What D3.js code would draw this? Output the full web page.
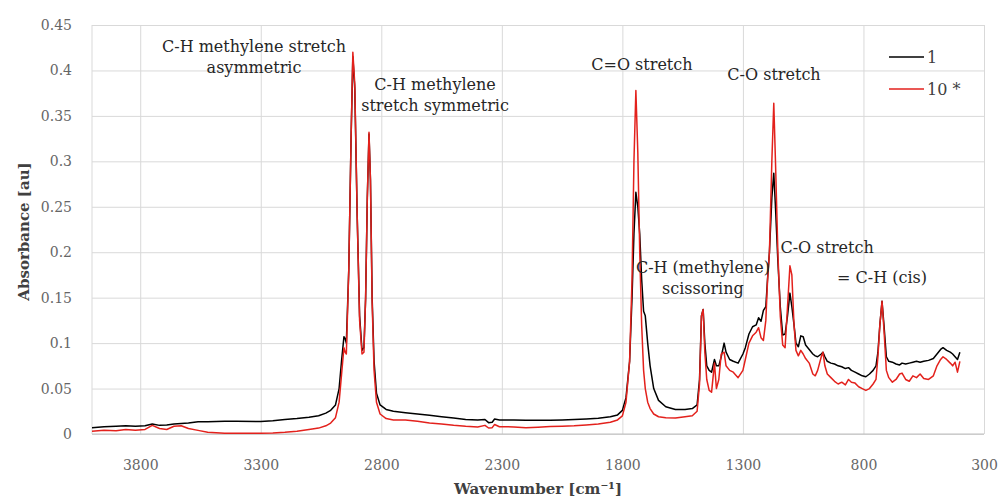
<!DOCTYPE html>
<html>
<head>
<meta charset="utf-8">
<script src="https://cdn.jsdelivr.net/npm/d3@7"></script>
<style>
  body { margin: 0; background: #fff; }
  svg text { font-family: "DejaVu Serif", serif; }
</style>
</head>
<body>
<svg id="chart" width="998" height="502"></svg>
<script>
// wavenumber grid shared by both spectra (cm^-1)
const wavenumbers = [
  4000, 3950, 3900, 3860, 3820, 3780, 3750, 3720, 3690, 3660, 3630, 3600, 3560, 3520, 3450, 3400,
  3300, 3250, 3200, 3150, 3100, 3060, 3030, 3010, 2990, 2975, 2965, 2955, 2950, 2945, 2935, 2925,
  2918, 2910, 2900, 2890, 2880, 2872, 2865, 2858, 2851, 2845, 2838, 2830, 2820, 2805, 2780, 2750,
  2700, 2650, 2600, 2550, 2500, 2450, 2400, 2370, 2355, 2340, 2330, 2310, 2250, 2200, 2150, 2100,
  2050, 2000, 1950, 1900, 1850, 1820, 1800, 1785, 1770, 1760, 1752, 1744, 1736, 1728, 1720, 1712,
  1705, 1695, 1685, 1670, 1650, 1620, 1580, 1540, 1510, 1490, 1480, 1472, 1465, 1458, 1450, 1440,
  1430, 1418, 1410, 1400, 1390, 1378, 1370, 1355, 1340, 1320, 1300, 1290, 1275, 1260, 1245, 1235,
  1225, 1215, 1205, 1198, 1190, 1180, 1172, 1165, 1155, 1145, 1135, 1125, 1115, 1105, 1097, 1088,
  1080, 1070, 1060, 1050, 1040, 1025, 1010, 1000, 990, 975, 968, 960, 950, 935, 920, 905,
  890, 875, 862, 850, 835, 820, 805, 790, 775, 760, 748, 740, 732, 723, 715, 705,
  695, 680, 665, 650, 640, 625, 610, 595, 580, 565, 550, 530, 510, 495, 480, 470,
  455, 440, 430, 420, 410, 400
];

// series "1" absorbance
const sample1 = [
  0.007, 0.008, 0.0085, 0.009, 0.0085, 0.009, 0.011, 0.0095, 0.010, 0.011, 0.0115, 0.012, 0.0135, 0.0135, 0.014, 0.014,
  0.0138, 0.0145, 0.016, 0.017, 0.0185, 0.020, 0.023, 0.026, 0.032, 0.050, 0.080, 0.107, 0.105, 0.100, 0.180, 0.330,
  0.415, 0.380, 0.240, 0.130, 0.092, 0.095, 0.150, 0.260, 0.330, 0.280, 0.150, 0.080, 0.045, 0.032, 0.027, 0.025,
  0.0235, 0.022, 0.0205, 0.019, 0.0175, 0.016, 0.0155, 0.016, 0.0125, 0.013, 0.0165, 0.0155, 0.0154, 0.015, 0.015, 0.015,
  0.0155, 0.016, 0.0165, 0.0172, 0.019, 0.021, 0.026, 0.040, 0.080, 0.150, 0.220, 0.266, 0.250, 0.220, 0.170, 0.135,
  0.130, 0.100, 0.075, 0.050, 0.037, 0.030, 0.027, 0.027, 0.028, 0.032, 0.060, 0.130, 0.137, 0.100, 0.075, 0.070,
  0.068, 0.082, 0.075, 0.075, 0.085, 0.100, 0.090, 0.082, 0.080, 0.078, 0.088, 0.095, 0.110, 0.118, 0.120, 0.128,
  0.124, 0.136, 0.140, 0.170, 0.200, 0.260, 0.287, 0.250, 0.190, 0.140, 0.109, 0.110, 0.130, 0.155, 0.140, 0.120,
  0.100, 0.096, 0.108, 0.107, 0.098, 0.093, 0.088, 0.086, 0.085, 0.088, 0.090, 0.085, 0.080, 0.078, 0.077, 0.075,
  0.074, 0.072, 0.073, 0.070, 0.068, 0.066, 0.064, 0.063, 0.066, 0.070, 0.075, 0.090, 0.120, 0.146, 0.120, 0.085,
  0.080, 0.079, 0.077, 0.076, 0.078, 0.077, 0.078, 0.079, 0.080, 0.079, 0.080, 0.081, 0.083, 0.088, 0.093, 0.095,
  0.092, 0.090, 0.088, 0.085, 0.082, 0.090
];

// series "10 *" absorbance
const sample10 = [
  0.003, 0.004, 0.0035, 0.005, 0.004, 0.005, 0.0095, 0.006, 0.005, 0.0085, 0.009, 0.006, 0.004, 0.002, 0.0008, 0.0007,
  0.0007, 0.001, 0.0018, 0.003, 0.005, 0.0065, 0.009, 0.012, 0.018, 0.035, 0.065, 0.095, 0.090, 0.088, 0.180, 0.330,
  0.420, 0.385, 0.240, 0.125, 0.088, 0.090, 0.150, 0.260, 0.332, 0.280, 0.145, 0.070, 0.035, 0.022, 0.017, 0.0155,
  0.0155, 0.014, 0.012, 0.011, 0.0095, 0.0085, 0.0078, 0.0095, 0.0066, 0.007, 0.0105, 0.008, 0.0078, 0.0068, 0.0075, 0.0082,
  0.0085, 0.009, 0.010, 0.011, 0.013, 0.0155, 0.020, 0.035, 0.080, 0.170, 0.300, 0.378, 0.310, 0.200, 0.120, 0.070,
  0.050, 0.035, 0.028, 0.022, 0.019, 0.018, 0.0175, 0.019, 0.020, 0.025, 0.055, 0.130, 0.137, 0.090, 0.060, 0.048,
  0.046, 0.078, 0.050, 0.060, 0.088, 0.090, 0.075, 0.070, 0.068, 0.062, 0.070, 0.082, 0.100, 0.108, 0.112, 0.117,
  0.106, 0.103, 0.125, 0.168, 0.200, 0.300, 0.364, 0.300, 0.200, 0.130, 0.098, 0.095, 0.140, 0.185, 0.175, 0.120,
  0.092, 0.086, 0.092, 0.088, 0.083, 0.078, 0.066, 0.064, 0.070, 0.085, 0.090, 0.075, 0.066, 0.062, 0.058, 0.055,
  0.057, 0.054, 0.060, 0.057, 0.056, 0.052, 0.050, 0.048, 0.050, 0.055, 0.060, 0.085, 0.120, 0.146, 0.115, 0.070,
  0.062, 0.057, 0.060, 0.066, 0.067, 0.060, 0.058, 0.064, 0.062, 0.066, 0.061, 0.060, 0.064, 0.075, 0.082, 0.085,
  0.082, 0.078, 0.075, 0.079, 0.068, 0.080
];

const seriesNames = ['1', '10 *'];
const xTicks = [3800, 3300, 2800, 2300, 1800, 1300, 800, 300];
const yTicks = [0, 0.05, 0.1, 0.15, 0.2, 0.25, 0.3, 0.35, 0.4, 0.45];

// band labels, anchored at (wavenumber, absorbance) of the first line's centre
const bandLabels = [
  { lines: ['C-H methylene stretch', 'asymmetric'], wn: 3328, abs: 0.426 },
  { lines: ['C-H methylene', 'stretch symmetric'], wn: 2577, abs: 0.385 },
  { lines: ['C=O stretch'], wn: 1719, abs: 0.407 },
  { lines: ['C-O stretch'], wn: 1171, abs: 0.396 },
  { lines: ['C-H (methylene)', 'scissoring'], wn: 1466, abs: 0.183 },
  { lines: ['C-O stretch'], wn: 951, abs: 0.205 },
  { lines: ['= C-H (cis)'], wn: 723, abs: 0.172 }
];

const svg = d3.select('#chart');
const width = +svg.attr('width');
const height = +svg.attr('height');
const margin = { top: 25, right: 14, bottom: 68, left: 92 };
const innerWidth = width - margin.left - margin.right;
const innerHeight = height - margin.top - margin.bottom;

const colours = ['#000000', '#e3211c'];
const font = '"DejaVu Serif", serif';

const xScale = d3.scaleLinear().domain([4000, 300]).range([0, innerWidth]);
const yScale = d3.scaleLinear().domain([0, 0.45]).range([innerHeight, 0]);

const g = svg.append('g').attr('transform', `translate(${margin.left},${margin.top})`);

// horizontal gridlines + y labels
const yAxisG = g.append('g')
  .call(d3.axisLeft(yScale).tickValues(yTicks).tickSize(-innerWidth).tickPadding(20)
    .tickFormat(d => String(+d.toFixed(2))))
  .attr('font-family', font);
yAxisG.select('.domain').remove();
yAxisG.selectAll('line').attr('stroke', '#d9d9d9').attr('stroke-width', 1);
yAxisG.selectAll('text').attr('fill', '#666').style('font-size', '14px');

// vertical gridlines + x labels
const xAxisG = g.append('g')
  .attr('transform', `translate(0,${innerHeight})`)
  .call(d3.axisBottom(xScale).tickValues(xTicks).tickSize(-innerHeight).tickFormat(d => String(d)))
  .attr('font-family', font);
xAxisG.select('.domain').remove();
xAxisG.selectAll('line').attr('stroke', '#d9d9d9').attr('stroke-width', 1);
xAxisG.selectAll('text')
  .attr('y', 31).attr('dy', '0.35em')
  .attr('fill', '#666').style('font-size', '14px');

// plot frame: left edge and bottom axis line
g.append('line').attr('x1', 0).attr('x2', 0).attr('y1', 0).attr('y2', innerHeight)
  .attr('stroke', '#d9d9d9');
g.append('line').attr('x1', 0).attr('x2', innerWidth).attr('y1', innerHeight).attr('y2', innerHeight)
  .attr('stroke', '#bfbfbf');

// spectra
const series = [sample1, sample10];
const lineGen = d3.line()
  .x((d, i) => xScale(wavenumbers[i]))
  .y(d => yScale(d));

g.selectAll('.spectrum').data(series).join('path')
  .attr('class', 'spectrum')
  .attr('fill', 'none')
  .attr('stroke', (d, i) => colours[i])
  .attr('stroke-width', 1.5)
  .attr('stroke-linejoin', 'round')
  .attr('d', lineGen);

// band annotations
const labelG = g.selectAll('.band').data(bandLabels).join('text')
  .attr('class', 'band')
  .attr('x', d => xScale(d.wn))
  .attr('y', d => yScale(d.abs))
  .attr('text-anchor', 'middle')
  .attr('fill', '#262626')
  .style('font-size', '16px');
labelG.selectAll('tspan').data(d => d.lines.map((t, i) => ({ t, i, x: xScale(d.wn) }))).join('tspan')
  .attr('x', d => d.x)
  .attr('dy', d => d.i === 0 ? '0.35em' : '21px')
  .text(d => d.t);

// legend
const legend = svg.append('g').attr('transform', 'translate(889,57)');
const items = legend.selectAll('g').data(seriesNames).join('g')
  .attr('transform', (d, i) => `translate(0,${i * 32})`);
items.append('line')
  .attr('x1', 0).attr('x2', 35)
  .attr('stroke', (d, i) => colours[i])
  .attr('stroke-width', 1.5);
items.append('text')
  .attr('x', 38).attr('dy', '0.35em')
  .attr('fill', '#404040')
  .style('font-size', '16px')
  .text(d => d);

// axis titles
svg.append('text')
  .attr('transform', `translate(24,${margin.top + innerHeight / 2 + 2}) rotate(-90)`)
  .attr('text-anchor', 'middle')
  .attr('dy', '0.35em')
  .attr('font-weight', 'bold')
  .attr('fill', '#404040')
  .style('font-size', '15px')
  .text('Absorbance [au]');

svg.append('text')
  .attr('x', margin.left + innerWidth / 2)
  .attr('y', 489)
  .attr('dy', '0.35em')
  .attr('text-anchor', 'middle')
  .attr('font-weight', 'bold')
  .attr('fill', '#404040')
  .style('font-size', '15px')
  .text('Wavenumber [cm⁻¹]');
</script>
</body>
</html>
